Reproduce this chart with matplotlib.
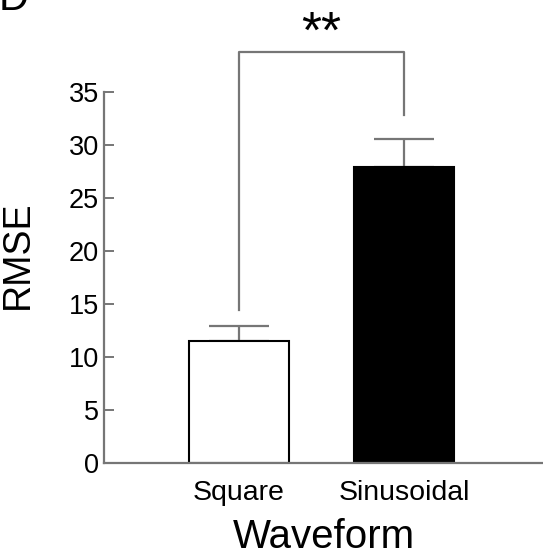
import matplotlib
matplotlib.use("Agg")
import matplotlib.pyplot as plt

plt.rcParams['font.family'] = ['Liberation Sans', 'DejaVu Sans']

# data
categories = ["Square", "Sinusoidal"]
rmse = [11.5, 27.9]
rmse_err = [1.4, 2.7]
bar_colors = ["white", "black"]
y_ticks = [0, 5, 10, 15, 20, 25, 30, 35]
# significance bracket: height of the top, bottom of each leg
bracket_top = 38.8
bracket_legs = [14.4, 32.8]
sig_label = "**"

fig = plt.figure(figsize=(5.43, 5.57), dpi=100)
ax = fig.add_axes([104 / 543, 94 / 557, 439 / 543, 463 / 557])

x = list(range(len(categories)))
gray = "#767676"

ax.bar(x, rmse, width=0.606, color=bar_colors, edgecolor="black",
       linewidth=1.5, zorder=2)
ax.errorbar(x, rmse, yerr=[[0] * len(rmse), rmse_err], fmt="none",
            ecolor=gray, elinewidth=1.6, capsize=21.6, capthick=1.6, zorder=1)

# bracket with stars
ax.plot([x[0], x[0], x[1], x[1]],
        [bracket_legs[0], bracket_top, bracket_top, bracket_legs[1]],
        color=gray, lw=1.6, clip_on=False)
ax.text((x[0] + x[1]) / 2, bracket_top + 0.4, sig_label, ha="center",
        va="baseline", fontsize=37, clip_on=False)

ax.set_xlim(-0.818, 1.842)
ax.set_ylim(0, 43.68)

for s in ["top", "right"]:
    ax.spines[s].set_visible(False)
ax.spines["left"].set_bounds(0, 35)
for s in ["left", "bottom"]:
    ax.spines[s].set_color(gray)
    ax.spines[s].set_linewidth(1.6)

ax.set_yticks(y_ticks)
ax.tick_params(axis="y", direction="in", length=7.2, width=1.4, color=gray,
               labelsize=19.5, pad=3.5)
ax.set_xticks(x)
ax.set_xticklabels(categories)
ax.tick_params(axis="x", length=0, labelsize=20.5, pad=12)

ax.set_xlabel("Waveform", fontsize=29, labelpad=9)
ax.set_ylabel("RMSE", fontsize=27)
ax.yaxis.set_label_coords(-0.155, 0.449)

# panel letter, mostly cut off at the top edge
fig.text(-0.002, 1 - 10 / 557, "D", fontsize=30, ha="left", va="baseline")

fig.savefig("out.png", dpi=100)
